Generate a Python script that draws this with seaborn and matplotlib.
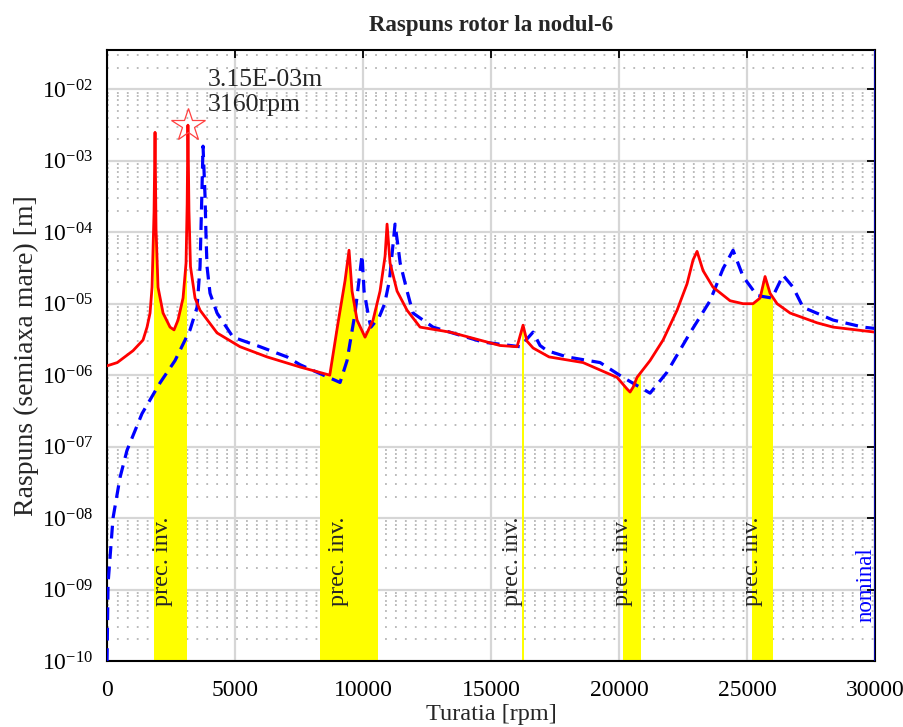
import numpy as np
import pandas as pd
import matplotlib
matplotlib.use("Agg")
import matplotlib.pyplot as plt
import matplotlib.transforms as mtransforms
from matplotlib.patches import Rectangle
from matplotlib.ticker import FixedLocator, FuncFormatter, LogLocator, NullFormatter
import seaborn as sns

# ---------------- data ----------------
red_rpm = [0, 400, 1016, 1406, 1563, 1680, 1758, 1836, 1875, 1914, 1992, 2188, 2461,
           2617, 2773, 2969, 3086, 3130, 3160, 3200, 3260, 3437, 3633, 4297, 5195,
           6250, 7539, 8700, 9023, 9297, 9453, 9570, 9766, 10078, 10391, 10664,
           10859, 10938, 11055, 11328, 11719, 12227, 13398, 15352, 16016, 16250,
           16400, 16641, 17266, 18594, 19922, 20313, 20430, 20550, 20700, 21211,
           21719, 22266, 22656, 22891, 23047, 23281, 23672, 24336, 24844, 25234,
           25508, 25703, 25898, 26172, 26680, 27734, 28359, 30000]
red_val = [1.35e-6, 1.5e-6, 2.2e-6, 3.1e-6, 4.7e-6, 7.4e-6, 1.7e-5, 1.9e-4, 2.5e-3,
           1.1e-4, 1.7e-5, 7.4e-6, 4.7e-6, 4.3e-6, 5.9e-6, 1.2e-5, 3.7e-5, 2.5e-4,
           3.15e-3, 2.0e-4, 3.3e-5, 1.2e-5, 8.1e-6, 3.9e-6, 2.5e-6, 1.8e-6, 1.3e-6,
           1.0e-6, 5.4e-6, 2.1e-5, 5.6e-5, 1.5e-5, 5.9e-6, 3.4e-6, 5.9e-6, 1.5e-5,
           4.6e-5, 1.3e-4, 3.7e-5, 1.5e-5, 8.1e-6, 4.7e-6, 4.0e-6, 2.6e-6, 2.5e-6,
           5.0e-6, 3.0e-6, 2.4e-6, 1.8e-6, 1.5e-6, 9.3e-7, 6.4e-7, 5.8e-7, 6.8e-7,
           9.3e-7, 1.6e-6, 3.1e-6, 8.1e-6, 1.9e-5, 4.1e-5, 5.4e-5, 2.9e-5, 1.7e-5,
           1.1e-5, 1.0e-5, 1.0e-5, 1.2e-5, 2.4e-5, 1.4e-5, 1.0e-5, 7.4e-6, 5.4e-6,
           4.7e-6, 4.0e-6]

blue_rpm = [0, 39, 234, 508, 781, 1367, 2070, 2656, 3242, 3516, 3633, 3700, 3750,
            3828, 3867, 3906, 4023, 4297, 4922, 5977, 7031, 7539, 9102, 9375, 9688,
            9961, 10040, 10240, 10310, 10630, 10840, 11030, 11250, 11370, 11450,
            11720, 11950, 12734, 14688, 16133, 16641, 16914, 17188, 17969, 19258,
            20156, 21211, 21875, 22773, 23555, 24063, 24453, 24844, 25391, 25977,
            26406, 26797, 27188, 28359, 29531, 30000]
blue_val = [1e-10, 1.2e-9, 1.0e-8, 3.7e-8, 8.9e-8, 2.9e-7, 7.8e-7, 1.6e-6, 4.3e-6,
            8.9e-6, 3.3e-5, 3.0e-4, 1.6e-3, 3.2e-4, 8.7e-5, 3.3e-5, 1.4e-5, 7.4e-6,
            3.4e-6, 2.5e-6, 1.8e-6, 1.4e-6, 7.9e-7, 1.6e-6, 7.4e-6, 4.8e-5, 1.5e-5,
            5.9e-6, 4.7e-6, 6.5e-6, 9.9e-6, 2.1e-5, 1.3e-4, 6.2e-5, 3.7e-5, 1.5e-5,
            7.4e-6, 4.7e-6, 2.9e-6, 2.5e-6, 4.0e-6, 2.6e-6, 2.2e-6, 1.8e-6, 1.5e-6,
            9.3e-7, 5.6e-7, 1.1e-6, 3.9e-6, 1.1e-5, 3.1e-5, 5.6e-5, 2.4e-5, 1.3e-5,
            1.2e-5, 2.5e-5, 1.7e-5, 8.9e-6, 5.9e-6, 4.7e-6, 4.5e-6]

band_start = [1850, 8320, 16195, 20150, 25180]
band_end = [3090, 10550, 16235, 20800, 25970]
label_rpm = [2150, 9060, 15820, 20120, 25200]
label_text = "prec. inv."
peak_rpm = 3160
peak_val = 3.15e-3
peak_text = "3.15E-03m\n3160rpm"
nominal_rpm = 30000
x_ticks = [0, 5000, 10000, 15000, 20000, 25000, 30000]
y_exponents = [-10, -9, -8, -7, -6, -5, -4, -3, -2]

# ---------------- style ----------------
sns.set_style("white")
plt.rcParams["font.family"] = ["Liberation Serif", "DejaVu Serif"]
plt.rcParams["mathtext.fontset"] = "custom"
plt.rcParams["mathtext.rm"] = "Liberation Serif"
plt.rcParams["mathtext.it"] = "Liberation Serif:italic"
plt.rcParams["mathtext.bf"] = "Liberation Serif:bold"

fig = plt.figure(figsize=(9.04, 7.27), dpi=100)
ax = fig.add_axes([0.1184, 0.0908, 0.8496, 0.8404])
ax.set_yscale("log")
ax.set_xlim(0, 30000)
ax.set_ylim(1e-10, 10 ** -1.45)

# grid
ax.set_axisbelow(True)
ax.yaxis.set_major_locator(FixedLocator([10.0 ** e for e in y_exponents]))
ax.yaxis.set_minor_locator(LogLocator(base=10, subs=range(2, 10), numticks=30))
ax.yaxis.set_minor_formatter(NullFormatter())
ax.yaxis.set_major_formatter(FuncFormatter(
    lambda v, p: r"$\mathregular{10^{-%02d}}$" % int(round(-np.log10(v)))))
ax.xaxis.set_major_locator(FixedLocator(x_ticks))
ax.grid(which="major", color="#d6d6d6", lw=1.6, ls="-")
ax.grid(which="minor", axis="y", color="#b5b5b5", lw=1.3, ls=(0, (1, 4.5)))

# yellow bands under the red curve
blend = mtransforms.blended_transform_factory(ax.transData, ax.transAxes)
for s, e in zip(band_start, band_end):
    poly = ax.fill_between(red_rpm, 1e-10, red_val, color="#ffff00", lw=0, zorder=1.5)
    rect = Rectangle((s, 0), e - s, 1, transform=blend)
    poly.set_clip_path(rect)

df_red = pd.DataFrame({"rpm": red_rpm, "val": red_val})
df_blue = pd.DataFrame({"rpm": blue_rpm, "val": blue_val})
sns.lineplot(data=df_blue, x="rpm", y="val", ax=ax, color="#0000ff", lw=2.3,
             linestyle=(0, (4, 2.4)), estimator=None, sort=False, zorder=3)
sns.lineplot(data=df_red, x="rpm", y="val", ax=ax, color="#ff0000", lw=2.0,
             estimator=None, sort=False, zorder=4)

ax.plot([peak_rpm], [peak_val], marker="*", ms=25, mfc="none", mec="#ff4040",
        mew=0.9, zorder=5)
ax.text(3950, 9.0e-3, peak_text, fontsize=18.5, ha="left", va="center",
        linespacing=1.2, zorder=6)

for xr in label_rpm:
    ax.text(xr, 10 ** -8.6, label_text, rotation=90, ha="center", va="center",
            fontsize=17.5, zorder=6)

ax.axvline(nominal_rpm, color="#0a0aa8", lw=2.2, zorder=6)
ax.text(29640, 3.5e-10, "nominal", rotation=90, color="#0000ff", fontsize=16.5,
        ha="center", va="bottom", zorder=6)

# axes cosmetics
for sp in ax.spines.values():
    sp.set_color("black")
    sp.set_linewidth(1.5)
    sp.set_visible(True)
ax.tick_params(which="major", direction="in", length=6, width=1.3, top=True,
               right=True, labelsize=17, colors="black")
ax.tick_params(axis="x", which="major", pad=14)
ax.tick_params(axis="y", which="major", pad=10)
ax.tick_params(which="minor", length=0)
ax.set_xlabel("Turatia [rpm]", fontsize=17.5, labelpad=2)
ax.set_ylabel("Raspuns (semiaxa mare) [m]", fontsize=20, labelpad=2)
ax.set_title("Raspuns rotor la nodul-6", fontsize=16.5, fontweight="bold", pad=14)

fig.savefig("out.png", dpi=100)
